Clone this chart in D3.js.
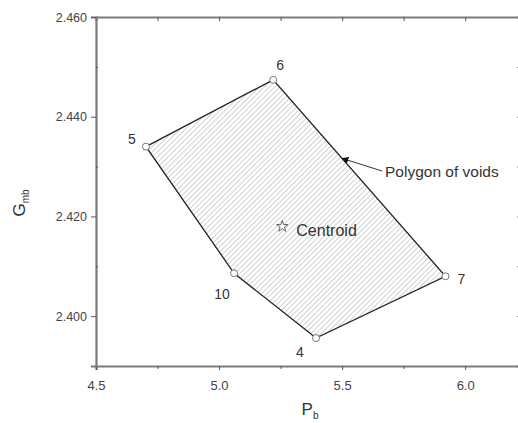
<!DOCTYPE html>
<html>
<head>
<meta charset="utf-8">
<script src="https://d3js.org/d3.v7.min.js"></script>
<style>
  body { margin: 0; background: #fff; }
  text { font-family: Arial, "Liberation Sans", sans-serif; }
</style>
</head>
<body>
<div class="chart"></div>
<script>
// polygon vertices (mix ids), binder content Pb vs bulk gravity Gmb
var mixIds = ["5", "6", "7", "4", "10"];
var pbValues = [4.703, 5.22, 5.92, 5.394, 5.061];
var gmbValues = [2.4340, 2.4474, 2.4080, 2.3956, 2.4086];

var centroidPb = 5.257;
var centroidGmb = 2.4180;

var xTicks = [4.5, 5.0, 5.5, 6.0];
var yTicks = [2.400, 2.420, 2.440, 2.460];
var xMinor = [4.75, 5.25, 5.75, 6.25];
var yMinor = [2.41, 2.43, 2.45];

var svgWidth = 518, svgHeight = 423;
// plot box (note: "top" is a reserved window prop, so use plot* names)
var plotLeft = 96, plotTop = 17, plotRight = 523, plotBottom = 366;

var svg = d3.select(".chart").append("svg")
  .attr("width", svgWidth)
  .attr("height", svgHeight);

var x = d3.scaleLinear().domain([4.5, 6.235]).range([plotLeft, plotRight]);
var y = d3.scaleLinear().domain([2.39, 2.46]).range([plotBottom, plotTop]);

// hatch pattern
var defs = svg.append("defs");
var pat = defs.append("pattern")
  .attr("id", "hatch")
  .attr("patternUnits", "userSpaceOnUse")
  .attr("width", 3.7).attr("height", 3.7)
  .attr("patternTransform", "rotate(45)");
pat.append("line")
  .attr("x1", 0).attr("y1", 0).attr("x2", 0).attr("y2", 3.7)
  .attr("stroke", "#9a9a9a").attr("stroke-width", 0.9);

var pts = mixIds.map((id, i) => [x(pbValues[i]), y(gmbValues[i])]);

// polygon
svg.append("polygon")
  .attr("points", pts.map(p => p.join(",")).join(" "))
  .attr("fill", "url(#hatch)")
  .attr("stroke", "#222")
  .attr("stroke-width", 1.3);

// vertex markers
svg.selectAll("circle.v")
  .data(pts)
  .enter().append("circle")
  .attr("class", "v")
  .attr("cx", d => d[0]).attr("cy", d => d[1])
  .attr("r", 3.5)
  .attr("fill", "#fff")
  .attr("stroke", "#777")
  .attr("stroke-width", 1);

// vertex labels
var labelOffsets = {"5": [-14, -3], "6": [7, -10], "7": [16, 8], "4": [-16, 19], "10": [-12, 26]};
svg.selectAll("text.vl")
  .data(mixIds)
  .enter().append("text")
  .attr("class", "vl")
  .attr("x", (d, i) => pts[i][0] + labelOffsets[d][0])
  .attr("y", (d, i) => pts[i][1] + labelOffsets[d][1])
  .attr("text-anchor", "middle")
  .attr("font-size", "14px")
  .attr("fill", "#333")
  .text(d => d);

// centroid star
var star = d3.symbol().type(d3.symbolStar).size(40);
svg.append("path")
  .attr("d", star())
  .attr("transform", `translate(${x(centroidPb)},${y(centroidGmb)})`)
  .attr("fill", "#fff")
  .attr("stroke", "#555")
  .attr("stroke-width", 0.9);
svg.append("text")
  .attr("x", x(centroidPb) + 14)
  .attr("y", y(centroidGmb) + 10)
  .attr("font-size", "16px")
  .attr("fill", "#333")
  .text("Centroid");

// annotation arrow for polygon edge
defs.append("marker")
  .attr("id", "arr")
  .attr("viewBox", "0 0 10 10")
  .attr("refX", 9).attr("refY", 5)
  .attr("markerWidth", 7).attr("markerHeight", 7)
  .attr("orient", "auto")
  .append("path").attr("d", "M0,0 L10,5 L0,10 z").attr("fill", "#111");
var edgePt = [x(5.22 + (5.92 - 5.22) * 0.4), y(2.4474 + (2.4080 - 2.4474) * 0.4)];
svg.append("line")
  .attr("x1", 382).attr("y1", 171)
  .attr("x2", edgePt[0]).attr("y2", edgePt[1])
  .attr("stroke", "#333").attr("stroke-width", 1)
  .attr("marker-end", "url(#arr)");
svg.append("text")
  .attr("x", 385).attr("y", 177)
  .attr("font-size", "15.5px")
  .attr("fill", "#333")
  .text("Polygon of voids");

// axes frame
var axisColor = "#7a7a7a";
svg.append("g")
  .attr("transform", `translate(0,${plotBottom})`)
  .call(d3.axisBottom(x).tickValues(xTicks).tickFormat(d3.format(".1f")).tickSize(4).tickPadding(11))
  .call(g => g.select(".domain").attr("stroke", axisColor).attr("stroke-width", 2.2))
  .call(g => g.selectAll(".tick line").attr("stroke", "#555"))
  .call(g => g.selectAll(".tick text").attr("font-size", "13px").attr("fill", "#444").attr("font-family", "Arial, sans-serif"));
svg.append("g")
  .attr("transform", `translate(0,${plotBottom})`)
  .call(d3.axisBottom(x).tickValues(xMinor).tickFormat("").tickSize(3))
  .call(g => g.select(".domain").remove())
  .call(g => g.selectAll(".tick line").attr("stroke", "#555"));

svg.append("g")
  .attr("transform", `translate(0,${plotTop})`)
  .call(d3.axisBottom(x).tickValues(xTicks.concat(xMinor)).tickFormat("").tickSize(4))
  .call(g => g.select(".domain").attr("stroke", axisColor).attr("stroke-width", 2.2))
  .call(g => g.selectAll(".tick line").attr("stroke", "#555"));

svg.append("g")
  .attr("transform", `translate(${plotLeft},0)`)
  .call(d3.axisLeft(y).tickValues(yTicks).tickFormat(d3.format(".3f")).tickSize(5).tickPadding(4))
  .call(g => g.select(".domain").attr("stroke", axisColor).attr("stroke-width", 2.2))
  .call(g => g.selectAll(".tick line").attr("stroke", "#555"))
  .call(g => g.selectAll(".tick text").attr("font-size", "12.5px").attr("fill", "#444").attr("font-family", "Arial, sans-serif"));
svg.append("g")
  .attr("transform", `translate(${plotLeft},0)`)
  .call(d3.axisRight(y).tickValues(yMinor).tickFormat("").tickSize(2))
  .call(g => g.select(".domain").remove())
  .call(g => g.selectAll(".tick line").attr("stroke", "#555"));

svg.append("g")
  .attr("transform", `translate(${plotRight},0)`)
  .call(d3.axisLeft(y).tickValues(yTicks.concat(yMinor)).tickFormat("").tickSize(6))
  .call(g => g.select(".domain").attr("stroke", axisColor).attr("stroke-width", 2.2))
  .call(g => g.selectAll(".tick line").attr("stroke", "#888"));

// axis titles
var yl = svg.append("text")
  .attr("transform", "translate(25,203) rotate(-90)")
  .attr("text-anchor", "middle")
  .attr("font-size", "17px")
  .attr("fill", "#333");
yl.append("tspan").text("G");
yl.append("tspan").attr("font-size", "10px").attr("dy", 4).text("mb");

var xl = svg.append("text")
  .attr("x", 310).attr("y", 415)
  .attr("text-anchor", "middle")
  .attr("font-size", "17px")
  .attr("fill", "#333");
xl.append("tspan").text("P");
xl.append("tspan").attr("font-size", "10px").attr("dy", 4).text("b");
</script>
</body>
</html>
